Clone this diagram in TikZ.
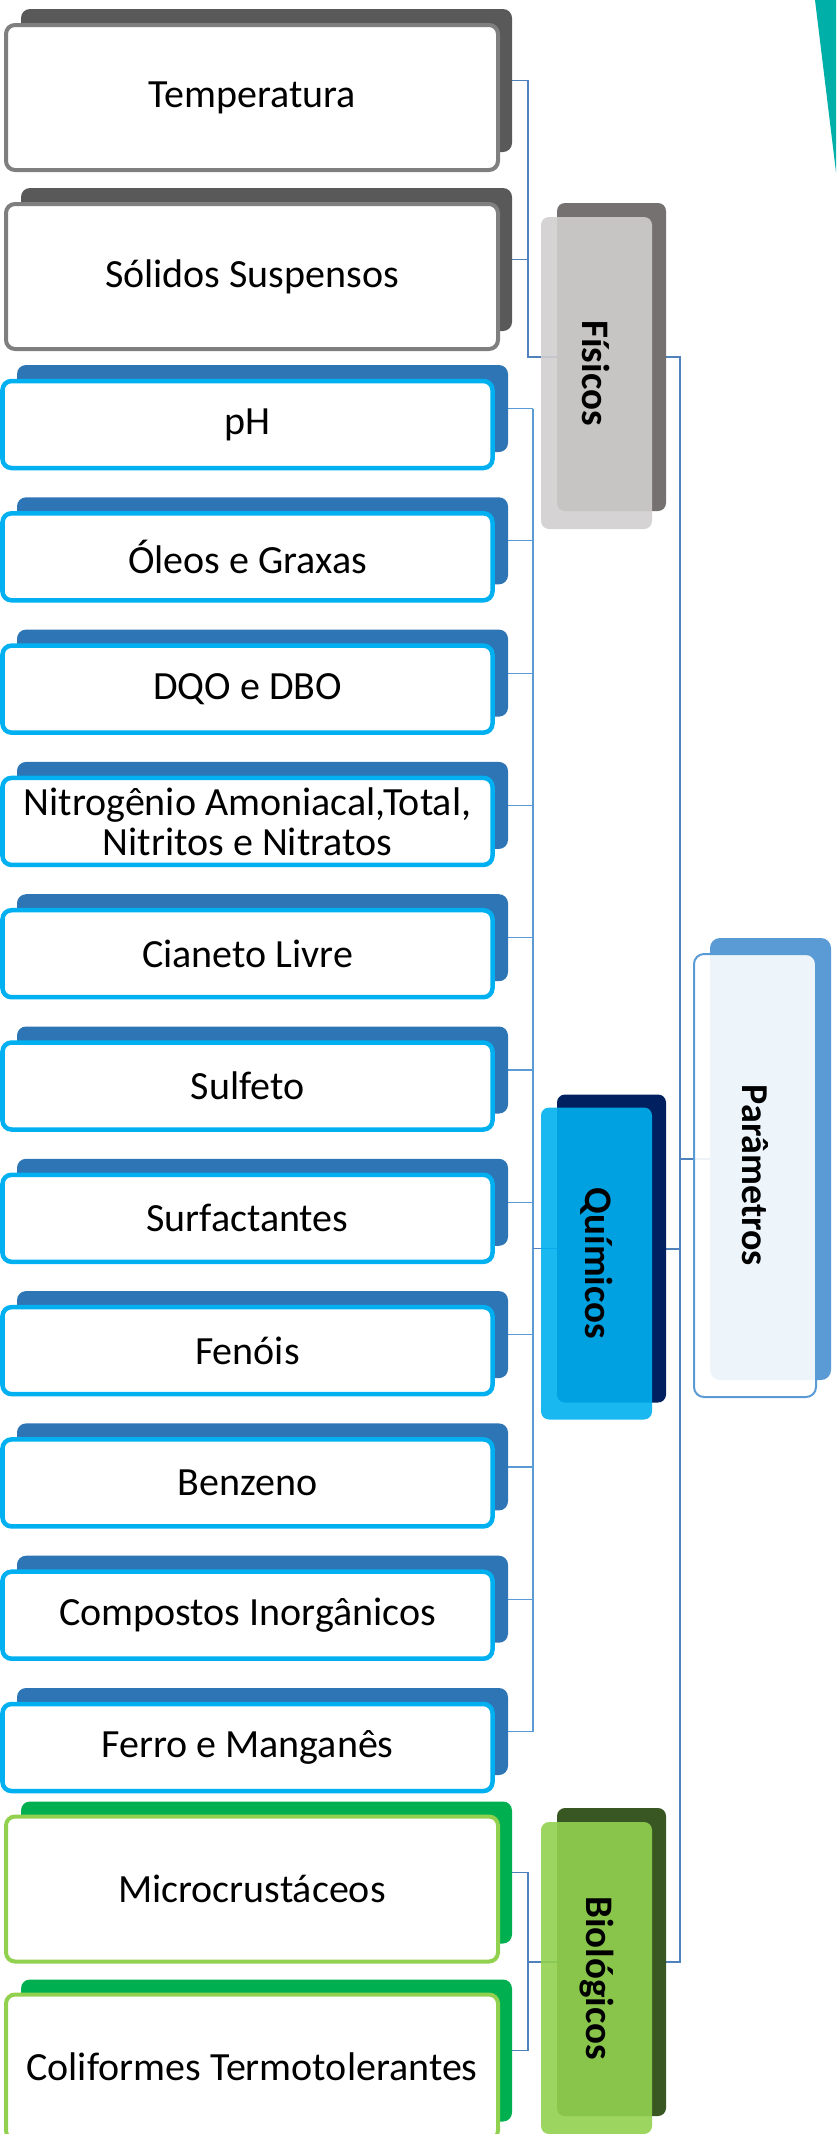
\documentclass[tikz,border=0pt]{standalone}
\usepackage{fontspec}
\setmainfont{Carlito}
\usetikzlibrary{backgrounds}

\definecolor{grisosc}{HTML}{595959}
\definecolor{grisborde}{HTML}{7F7F7F}
\definecolor{grisfis}{HTML}{767171}
\definecolor{grisclaro}{HTML}{D0CECE}
\definecolor{azulosc}{HTML}{2E75B6}
\definecolor{celeste}{HTML}{00B0F0}
\definecolor{marino}{HTML}{002060}
\definecolor{verde}{HTML}{00B050}
\definecolor{verdeclaro}{HTML}{92D050}
\definecolor{verdeosc}{HTML}{385723}
\definecolor{azulpar}{HTML}{5B9BD5}
\definecolor{linea}{HTML}{4F81BD}
\definecolor{turquesa}{HTML}{00B0A8}

\begin{document}
\begin{tikzpicture}[x=1pt, y=-1pt,
  caja/.style={rounded corners=9pt, inner sep=0pt, align=center,
    font=\fontsize{40}{40}\selectfont},
  grisfondo/.style={caja, fill=grisosc, minimum width=491pt, minimum height=143pt},
  grisfrente/.style={caja, draw=grisborde, line width=4pt, fill=white,
    minimum width=492pt, minimum height=145pt},
  azulfondo/.style={caja, fill=azulosc, minimum width=491pt, minimum height=87pt},
  azulfrente/.style={caja, draw=celeste, line width=4.5pt, fill=white,
    minimum width=490pt, minimum height=87pt},
  verdefondo/.style={caja, fill=verde, minimum width=491pt, minimum height=142pt},
  verdefrente/.style={caja, draw=verdeclaro, line width=4pt, fill=white,
    minimum width=492pt, minimum height=145pt},
  catfondo/.style={rounded corners=8pt, inner sep=0pt, minimum width=109pt, minimum height=308pt},
  catfrente/.style={rounded corners=8pt, inner sep=0pt, rotate=-90, fill opacity=0.9,
    text opacity=1, minimum width=312pt, minimum height=111pt,
    font=\bfseries\fontsize{39}{39}\selectfont},
  trazo/.style={draw=linea, line width=1.8pt},
  trazofino/.style={draw=azulpar, line width=1.2pt},
  trazomain/.style={draw=linea, line width=2pt}]

  \useasboundingbox (0,0) rectangle (836,2134);

  % Triangulo de la esquina
  \fill[turquesa] (815,0) -- (836,0) -- (836,172) -- cycle;

  % Fisicos
  \node[grisfondo] (temp-s) at (266.5,80.5) {};
  \node[grisfrente] (temp) at (252,97.5) {Temperatura};
  \node[grisfondo] (sol-s) at (266.5,259.5) {};
  \node[grisfrente] (sol) at (252,276.5) {Sólidos Suspensos};

  % Quimicos
  \foreach \txt [count=\k from 0] in {pH, Óleos e Graxas, DQO e DBO,
      {Nitrogênio Amoniacal,Total,\\Nitritos e Nitratos}, Cianeto Livre, Sulfeto,
      Surfactantes, Fenóis, Benzeno, Compostos Inorgânicos, Ferro e Manganês} {
    \pgfmathsetmacro\ys{408.5+132.3*\k}
    \pgfmathsetmacro\yf{\ys+16}
    \node[azulfondo] (q\k-s) at (262.5,\ys) {};
    \node[azulfrente] (q\k) at (247.5,\yf) {\txt};
  }

  % Biologicos
  \node[verdefondo] (mic-s) at (266.5,1872.5) {};
  \node[verdefrente] (mic) at (252,1889) {Microcrustáceos};
  \node[verdefondo] (col-s) at (266.5,2050.5) {};
  \node[verdefrente] (col) at (252,2067) {Coliformes Termotolerantes};

  % Categorias
  \node[catfondo, fill=grisfis] (fis-s) at (611.5,357) {};
  \node[catfrente, fill=grisclaro] (fis) at (596.5,373) {Físicos};
  \node[catfondo, fill=marino] (quim-s) at (611.5,1248.5) {};
  \node[catfrente, fill=celeste] (quim) at (596.5,1263.5) {Químicos};
  \node[catfondo, fill=verdeosc] (bio-s) at (611.5,1962) {};
  \node[catfrente, fill=verdeclaro] (bio) at (596.5,1978) {Biológicos};

  % Parametros
  \node[catfondo, rounded corners=10pt, fill=azulpar, minimum width=121pt,
    minimum height=442pt] (par-s) at (770.5,1159) {};
  \node[catfrente, rounded corners=10pt, draw=azulpar, line width=2pt, fill=white,
    minimum width=443pt, minimum height=122pt,
    font=\bfseries\fontsize{38}{38}\selectfont] (par) at (755,1175.5) {Parâmetros};

  % Conectores
  \coordinate (fbar) at (528,0);
  \coordinate (qbar) at (533,0);
  \coordinate (bbar) at (528,0);
  \coordinate (pbar) at (680,0);
  \begin{pgfonlayer}{background}
    \draw[trazo] (temp-s.east) -| (fbar |- fis-s.west) -- (fis-s.west);
    \draw[trazo] (sol-s.east) -- (sol-s.east -| fbar);
    \foreach \k in {0,...,10}
      \draw[trazofino] (q\k-s.east) -- (q\k-s.east -| qbar);
    \draw[trazofino] (q0-s.east -| qbar) -- (q10-s.east -| qbar);
    \draw[trazo] (qbar |- quim-s.west) -- (quim-s.west);
    \draw[trazo] (mic-s.east) -| (bbar |- col-s.east) -- (col-s.east);
    \draw[trazo] (bbar |- bio-s.west) -- (bio-s.west);
    \draw[trazomain] (fis-s.east) -| (pbar |- bio-s.east) -- (bio-s.east);
    \draw[trazomain] (quim-s.east) -- (quim-s.east -| pbar);
    \draw[trazomain] (pbar |- par-s.west) -- (par-s.west);
  \end{pgfonlayer}
\end{tikzpicture}
\end{document}
